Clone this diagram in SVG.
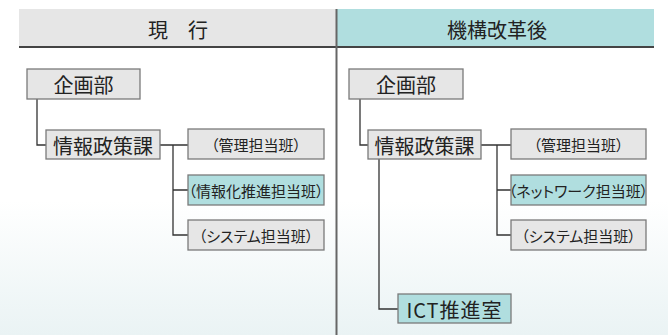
<svg xmlns="http://www.w3.org/2000/svg" width="668" height="335" viewBox="0 0 668 335">
<defs>
<linearGradient id="bg" x1="0" y1="0" x2="0" y2="1">
<stop offset="0" stop-color="#ffffff"/>
<stop offset="0.6" stop-color="#ffffff"/>
<stop offset="1" stop-color="#eaf3f4"/>
</linearGradient>
</defs>
<style>
text{font-family:"Noto Sans CJK JP","Noto Sans",sans-serif;fill:#222;text-anchor:middle;dominant-baseline:central}
.box{fill:#e6e6e6;stroke:#7a7a7a;stroke-width:1.3}
.hl{fill:#b0dedf;stroke:#7a7a7a;stroke-width:1.3}
.big{font-size:20px}
.sm{font-size:15px;font-feature-settings:"palt"}
.hd{font-size:20px}
.ln{fill:none;stroke:#333;stroke-width:1.3}
</style>
<rect width="668" height="335" fill="url(#bg)"/>
<g id="header-current">
<rect x="19" y="9" width="317" height="38" fill="#e6e6e6"/>
<text class="hd" x="178" y="29">現　行</text>
</g>
<g id="header-after">
<rect x="337" y="9" width="317" height="38" fill="#b0dedf"/>
<text class="hd" x="497" y="29">機構改革後</text>
</g>
<g id="frame">
<line x1="19" y1="47" x2="654" y2="47" stroke="#444" stroke-width="2"/>
<line x1="336.5" y1="9" x2="336.5" y2="335" stroke="#666" stroke-width="2"/>
</g>
<g id="connectors">
<path class="ln" d="M37 99 V145 H46"/>
<path class="ln" d="M160 145 H188 M173 145 V235 H188 M173 190 H188"/>
<path class="ln" d="M360 99 V145 H368"/>
<path class="ln" d="M481 145 H511 M497 145 V235 H511 M497 190 H511"/>
<path class="ln" d="M379 159 V309 H398"/>
</g>
<g id="l-kikaku"><rect class="box" x="27" y="69" width="113" height="30"/><text class="big" x="83.5" y="84.5">企画部</text></g>
<g id="l-joho"><rect class="box" x="46" y="130" width="114" height="29"/><text class="big" x="103" y="145">情報政策課</text></g>
<g id="l-kanri"><rect class="box" x="188" y="129" width="136" height="30"/><text class="sm" x="256" y="144.5">（管理担当班）</text></g>
<g id="l-suishin"><rect class="hl" x="188" y="175" width="136" height="30"/><text class="sm" x="256" y="190.5">（情報化推進担当班）</text></g>
<g id="l-system"><rect class="box" x="188" y="220" width="136" height="30"/><text class="sm" x="256" y="235.5">（システム担当班）</text></g>
<g id="r-kikaku"><rect class="box" x="349" y="69" width="114" height="30"/><text class="big" x="406" y="84.5">企画部</text></g>
<g id="r-joho"><rect class="box" x="368" y="130" width="113" height="29"/><text class="big" x="424.5" y="145">情報政策課</text></g>
<g id="r-kanri"><rect class="box" x="511" y="129" width="135" height="30"/><text class="sm" x="578.5" y="144.5">（管理担当班）</text></g>
<g id="r-network"><rect class="hl" x="511" y="175" width="135" height="30"/><text class="sm" x="578.5" y="190.5">（ネットワーク担当班）</text></g>
<g id="r-system"><rect class="box" x="511" y="220" width="135" height="30"/><text class="sm" x="578.5" y="235.5">（システム担当班）</text></g>
<g id="r-ict"><rect class="hl" x="398" y="294" width="113" height="29"/><text class="big" x="454.5" y="309" letter-spacing="1">ICT推進室</text></g>
</svg>
